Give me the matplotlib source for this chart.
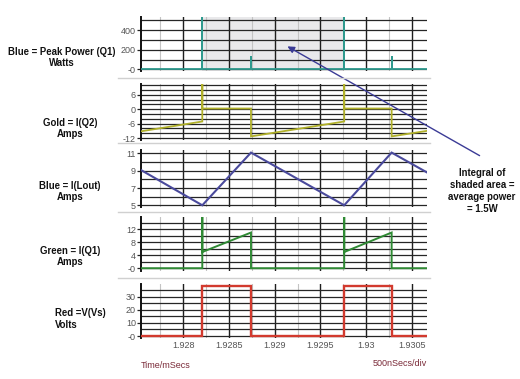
import matplotlib
matplotlib.use("Agg")
import matplotlib.pyplot as plt
from matplotlib.lines import Line2D
from matplotlib.patches import FancyArrowPatch
import numpy as np

# ---------------- data ----------------
x_min, x_max = 1.927534, 1.930667
x_ticks = [1.928, 1.9285, 1.929, 1.9295, 1.93, 1.9305]
x_tick_labels = ["1.928", "1.9285", "1.929", "1.9295", "1.93", "1.9305"]

t_on = [1.928208, 1.929761]
t_off = [1.928741, 1.930280]

# Panel 1: peak power Q1 (W)
t_power = [x_min, t_on[0], t_on[0], t_on[0], t_off[0], t_off[0], t_off[0],
           t_on[1], t_on[1], t_on[1], t_off[1], t_off[1], t_off[1], x_max]
v_power = [0, 0, 600, 0, 0, 140, 0, 0, 600, 0, 0, 135, 0, 0]
shade_range = [t_on[0], t_on[1]]

# Panel 2: I(Q2) (A)
t_iq2 = [x_min, t_on[0], t_on[0], t_on[0], t_off[0], t_off[0],
         t_on[1], t_on[1], t_on[1], t_off[1], t_off[1], x_max]
v_iq2 = [-9.2, -5.1, 14, 0.3, 0.3, -11.3, -5.1, 14, 0.3, 0.3, -11.3, -9.0]

# Panel 3: I(Lout) (A)
t_il = [x_min, t_on[0], t_off[0], t_on[1], t_off[1], x_max]
v_il = [9.1, 5.0, 11.1, 5.0, 11.1, 8.8]

# Panel 4: I(Q1) (A)
t_iq1 = [x_min, t_on[0], t_on[0], t_on[0], t_off[0], t_off[0],
         t_on[1], t_on[1], t_on[1], t_off[1], t_off[1], x_max]
v_iq1 = [0, 0, 20, 5.0, 11.0, 0, 0, 20, 5.0, 11.0, 0, 0]

# Panel 5: V(Vs) (V)
t_vs = [x_min, t_on[0], t_on[0], t_off[0], t_off[0],
        t_on[1], t_on[1], t_off[1], t_off[1], x_max]
v_vs = [0, 0, 38.5, 38.5, 0, 0, 38.5, 38.5, 0, 0]

panel_labels = ["Blue = Peak Power (Q1)\nWatts", "Gold = I(Q2)\nAmps",
                "Blue = I(Lout)\nAmps", "Green = I(Q1)\nAmps", "Red =V(Vs)\nVolts"]
y_ticks = [[0, 200, 400], [-12, -6, 0, 6], [5, 7, 9, 11], [0, 4, 8, 12], [0, 10, 20, 30]]
y_tick_labels = [["-0", "200", "400"], ["-12", "-6", "0", "6"], ["5", "7", "9", "11"],
                 ["-0", "4", "8", "12"], ["-0", "10", "20", "30"]]
y_grid = [np.arange(0, 501, 100), np.arange(-12, 11, 2), np.arange(5, 12, 1),
          np.arange(0, 15, 2), np.arange(0, 36, 5)]
y_lims = [(-14, 530), (-12.8, 10.5), (4.8, 11.4), (-0.7, 15.7), (-1.5, 39.7)]

colors = ["#2f9a8e", "#b0b02a", "#4a4a9c", "#2f8a34", "#d23a2e"]
widths = [1.3, 1.3, 1.5, 1.4, 1.7]

# ---------------- layout ----------------
W, H = 520, 379
plt.rcParams['font.family'] = ['Liberation Sans', 'DejaVu Sans']
fig = plt.figure(figsize=(W / 100, H / 100), dpi=100)

left_px, right_px = 140.7, 427
panel_px = [(17.3, 70.7), (84, 140), (150, 207), (217.3, 270.5), (284, 338)]
label_pos = [(62, 57.7), (70, 128.5), (70, 191.5), (70, 256.5), (55, 319)]

series = [(t_power, v_power), (t_iq2, v_iq2), (t_il, v_il), (t_iq1, v_iq1), (t_vs, v_vs)]

tick_fs = 6.5
label_fs = 6.9

axes = []
for i, (top, bot) in enumerate(panel_px):
    ax = fig.add_axes([left_px / W, 1 - bot / H, (right_px - left_px) / W, (bot - top) / H])
    axes.append(ax)
    ax.set_xlim(x_min, x_max)
    ax.set_ylim(*y_lims[i])
    for s in ["top", "right", "bottom"]:
        ax.spines[s].set_visible(False)
    ax.spines["left"].set_color("#111111")
    ax.spines["left"].set_linewidth(1.4)
    minor_x = np.arange(1.92775, x_max, 0.0005)
    for xv in minor_x:
        ax.axvline(xv, color="#c4c4c4", lw=0.8, zorder=1)
    for xv in x_ticks:
        ax.axvline(xv, color="#1e1e1e", lw=1.0, zorder=1)
    for yv in y_grid[i]:
        ax.axhline(yv, color="#262626", lw=0.9, zorder=1)
    if i == 0:
        ax.axvspan(shade_range[0], shade_range[1], color="#e9e9eb", zorder=0.5, lw=0)
    t, v = series[i]
    ax.plot(t, v, color=colors[i], lw=widths[i], zorder=3, solid_joinstyle="miter")
    ax.set_yticks(y_ticks[i])
    ax.set_yticklabels(y_tick_labels[i])
    ax.tick_params(axis="y", length=3, width=0.9, color="#222222", pad=0.5,
                   labelsize=tick_fs, labelcolor="#555555")
    ax.set_xticks(x_ticks)
    if i == 4:
        ax.set_xticklabels(x_tick_labels)
        ax.tick_params(axis="x", length=0, pad=2.5, labelsize=tick_fs, labelcolor="#555555")
    else:
        ax.tick_params(axis="x", length=0, labelbottom=False)
    lx, ly = label_pos[i]
    fig.text(lx / W, 1 - ly / H, panel_labels[i], ha="left" if i == 4 else "center",
             va="center", ma="left" if i == 4 else "center", fontsize=label_fs,
             fontweight="bold", color="#111111", linespacing=1.2)

# separators between panels
for yp in [78.3, 143.3, 211.7, 278.3]:
    fig.add_artist(Line2D([118 / W, 430 / W], [1 - yp / H, 1 - yp / H],
                          color="#d0d0d0", lw=1.0))

# axis captions
fig.text(left_px / W, 1 - 366 / H, "Time/mSecs", ha="left", va="center",
         fontsize=tick_fs, color="#7a2a38")
fig.text(right_px / W, 1 - 364 / H, "500nSecs/div", ha="right", va="center",
         fontsize=tick_fs, color="#7a2a38")

# annotation
fig.text(482 / W, 1 - 191.5 / H, "Integral of\nshaded area =\naverage power\n= 1.5W",
         ha="center", va="center", ma="center", fontsize=label_fs, fontweight="bold",
         color="#111111", linespacing=1.25)
fig.add_artist(FancyArrowPatch(
    (482 / W, 1 - 157 / H), (285 / W, 1 - 45 / H), transform=fig.transFigure,
    arrowstyle="-|>,head_length=4,head_width=2", color="#3b3b96", lw=1.0,
    mutation_scale=1))

fig.savefig("out.png", dpi=100)
